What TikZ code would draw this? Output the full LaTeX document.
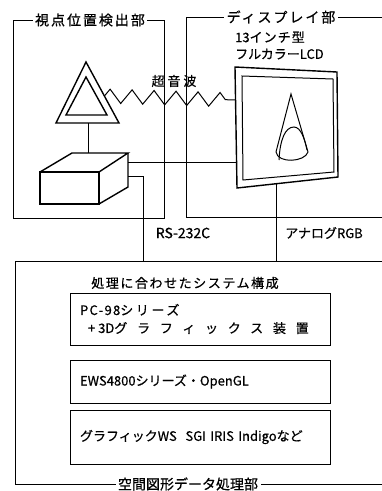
\documentclass[tikz,border=0pt]{standalone}
\usepackage{fontspec}
\newfontfamily\jp[FakeBold=0.6]{Noto Sans CJK JP}
\usetikzlibrary{decorations.pathmorphing,positioning}

\newcommand\spaced[1]{\addfontfeature{LetterSpace=#1}}

\tikzset{
  frame/.style={line width=1pt},
  part/.style={line width=1.4pt,line join=miter},
  wire/.style={line width=1pt},
  tag/.style={fill=white,inner sep=2.5pt,font=\jp\fontsize{14}{16}\selectfont\spaced{14}},
  note/.style={inner sep=0pt,font=\jp\fontsize{13}{17}\selectfont},
  sysbox/.style={draw,line width=1pt,minimum width=260pt,text width=240pt,
    align=left,inner xsep=10pt,font=\jp\fontsize{13}{18}\selectfont}
}

\begin{document}
\begin{tikzpicture}[x=1pt,y=-1pt]
  \useasboundingbox (0,0) rectangle (382,491);

  % --- the three unit frames ---
  \draw[frame] (13,20) rectangle (164,218);
  \node[tag] (detlabel) at (90,20) {視点位置検出部};
  \draw[frame] (382,17) -- (186,17) -- (186,217) -- (382,217);
  \node[tag] (displabel) at (281,17) {ディスプレイ部};
  \draw[frame] (382,261) -- (15,261) -- (15,484) -- (382,484);
  \node[tag,font=\jp\fontsize{14}{16}\selectfont] (proclabel) at (188,484)
    {空間図形データ処理部};

  % --- ultrasonic sensor ---
  \draw[part] (86,62) -- (56,123) -- (119,123) -- cycle;
  \draw[part] (86,77) -- (66,115) -- (107,115) -- cycle;
  \coordinate (sensor) at (88,123);
  \coordinate (sensorR) at (104.4,96);

  % --- controller box ---
  \draw[part] (40,172) rectangle (99,204);
  \draw[part] (40,172) -- (72,153) -- (128,153) -- (99,172);
  \draw[part] (128,153) -- (128,187) -- (99,204);
  \coordinate (ctrlT) at (88,153);
  \coordinate (ctrlA) at (128,162);
  \coordinate (ctrlB) at (128,176);

  % --- LCD with cone ---
  \draw[part] (235,67) -- (337,72) -- (338,177) -- (237,188) -- cycle;
  \draw[wire] (242,76) -- (333,79) -- (334,172) -- (243,180) -- cycle;
  \draw[wire] (276,152) -- (291,94) -- (308,152);
  \draw[wire] (276,152) .. controls (278,164) and (305,162) .. (308,152);
  \draw[wire] (279,160) .. controls (280,140) and (285,127) .. (294,127)
    .. controls (301,127) and (305,140) .. (307,150);
  \coordinate (lcdL) at (236.6,162);
  \coordinate (lcdZ) at (235.8,100);
  \coordinate (lcdB) at (276,184);

  % --- ports on the processing frame ---
  \coordinate (procA) at (143,261);
  \coordinate (procB) at (276,261);

  % --- connections ---
  \draw[wire,decorate,decoration={zigzag,segment length=22pt,amplitude=7pt}]
    (sensorR) -- (lcdZ);
  \draw[wire] (sensor) -- (ctrlT);
  \draw[wire] (ctrlA) -- (lcdL);
  \draw[wire] (ctrlB) -| (procA);
  \draw[wire] (lcdB) -- (procB);

  % --- labels ---
  \node[note] (ultra) at (174,81) {\spaced{22}超音波};
  \node[note,anchor=west] (lcdsize) at (235,37) {13{\spaced{8}インチ型}};
  \node[note,anchor=west] (lcdtype) at (235,54) {フルカラーLCD};
  \node[note,font=\jp\fontsize{14}{17}\selectfont] (rs) at (183,233) {RS-232C};
  \node[note] (rgb) at (324,233) {アナログRGB};
  \node[note] (systitle) at (185,283) {\spaced{12}処理に合わせたシステム構成};

  % --- system options ---
  \node[sysbox,minimum height=52pt] (pc98) at (200,319)
    {{\spaced{10}PC-98}{\spaced{20}シリーズ}\\
     \hspace*{8pt}+\hspace{3pt}3D{\spaced{75}グラフィックス装置}};
  \node[sysbox,minimum height=43pt] (ews) at (200,381.5)
    {EWS4800シリーズ・OpenGL};
  \node[sysbox,minimum height=54pt] (sgi) at (200,437)
    {グラフィックWS\ \ SGI IRIS Indigoなど};
\end{tikzpicture}
\end{document}
